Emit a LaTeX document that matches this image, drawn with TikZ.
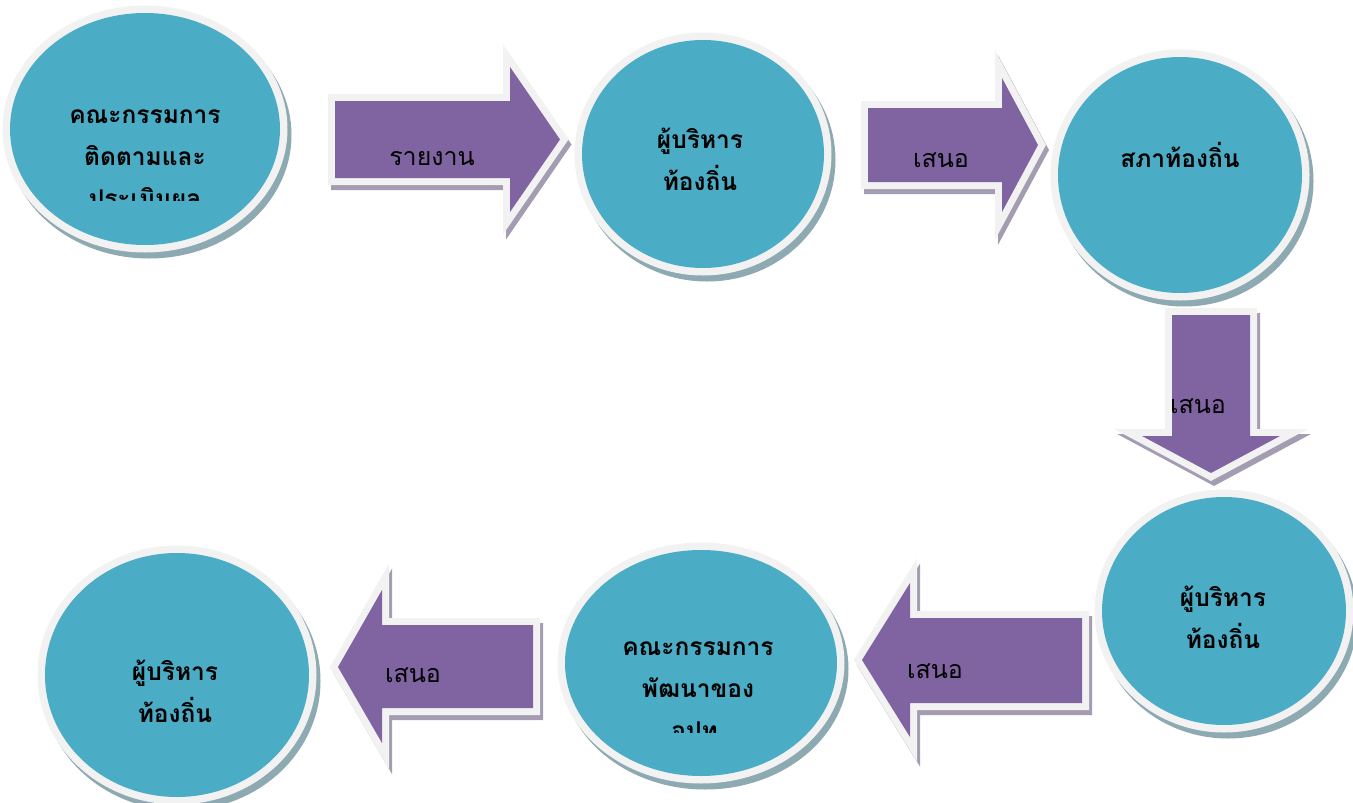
\documentclass[tikz,border=0pt]{standalone}
\usepackage{fontspec}
\newfontfamily\thaifont[Script=Thai]{Loma}
\usetikzlibrary{shapes.geometric}
\definecolor{bubblecol}{HTML}{4BACC6}
\definecolor{ringcol}{HTML}{F2F2F2}
\definecolor{bubshade}{HTML}{8DA9B2}
\definecolor{arrowcol}{HTML}{8064A2}
\definecolor{arrowshade}{HTML}{A49CB0}
\tikzset{
 bubble/.style={ellipse, inner sep=0pt, fill=bubblecol,
   preaction={draw=bubshade, fill=bubshade, line width=15pt, transform canvas={shift={(4pt,-6pt)}}},
   preaction={draw=ringcol, line width=15pt}},
 blockarrow/.style={fill=arrowcol, line join=miter,
   preaction={draw=arrowshade, line width=14pt, line join=miter, transform canvas={shift={(3pt,-5pt)}}},
   preaction={draw=ringcol, line width=14pt, line join=miter}},
 btext/.style={font=\thaifont\bfseries\fontsize{24.5}{30}\selectfont, anchor=base, inner sep=0pt, text=black},
 atext/.style={font=\thaifont\fontsize{25}{30}\selectfont, anchor=base, inner sep=0pt, text=black},
}
\begin{document}
\begin{tikzpicture}[x=1pt,y=-1pt]
\fill[white] (0,0) rectangle (1353,803);
\useasboundingbox (0,0) rectangle (1353,803);
% block arrows
\path[blockarrow] (335,101) -- (510,101) -- (510,67) -- (560,139.5) -- (510,212) -- (510,178) -- (335,178) -- cycle;
\path[blockarrow] (868,108) -- (1002,108) -- (1002,78) -- (1038,145) -- (1002,212) -- (1002,182) -- (868,182) -- cycle;
\path[blockarrow] (1172,315) -- (1250,315) -- (1250,436) -- (1280,436) -- (1211,473) -- (1142,436) -- (1172,436) -- cycle;
\path[blockarrow] (533,625) -- (382,625) -- (382,590) -- (338,667) -- (382,743) -- (382,708) -- (533,708) -- cycle;
\path[blockarrow] (1082,618) -- (910,618) -- (910,583) -- (862,660) -- (910,737) -- (910,703) -- (1082,703) -- cycle;
% bubbles
\node[bubble, minimum width=270pt, minimum height=232pt] (b1) at (145,129) {};
\node[bubble, minimum width=242pt, minimum height=228pt] (b2) at (703,154) {};
\node[bubble, minimum width=244pt, minimum height=236pt] (b3) at (1180,175) {};
\node[bubble, minimum width=244pt, minimum height=228pt] (b4) at (1224,611) {};
\node[bubble, minimum width=272pt, minimum height=226pt] (b5) at (701,663) {};
\node[bubble, minimum width=264pt, minimum height=244pt] (b6) at (177,675) {};
% bubble texts
\node[btext] (t1a) at (145,123) {คณะกรรมการ};
\node[btext] (t1b) at (145,165) {ติดตามและ};
\begin{scope}
\clip (30,172) rectangle (260,200);
\node[btext] (t1c) at (145,207) {ประเมินผล};
\end{scope}
\node[btext] (t2a) at (700,148) {ผู้บริหาร};
\node[btext] (t2b) at (700,190) {ท้องถิ่น};
\node[btext] (t3a) at (1180,167) {สภาท้องถิ่น};
\node[btext] (t4a) at (1223,606) {ผู้บริหาร};
\node[btext] (t4b) at (1223,648) {ท้องถิ่น};
\node[btext] (t5a) at (698,655) {คณะกรรมการ};
\node[btext] (t5b) at (698,697) {พัฒนาของ};
\begin{scope}
\clip (580,704) rectangle (820,732);
\node[btext] (t5c) at (698,739) {อปท.};
\end{scope}
\node[btext] (t6a) at (175,680) {ผู้บริหาร};
\node[btext] (t6b) at (175,722) {ท้องถิ่น};
% arrow labels
\node[atext] (l1) at (432,165) {รายงาน};
\node[atext] (l2) at (941,167) {เสนอ};
\node[atext] (l3) at (1198,413) {เสนอ};
\node[atext] (l4) at (413,682) {เสนอ};
\node[atext] (l5) at (935,678) {เสนอ};
\end{tikzpicture}
\end{document}
